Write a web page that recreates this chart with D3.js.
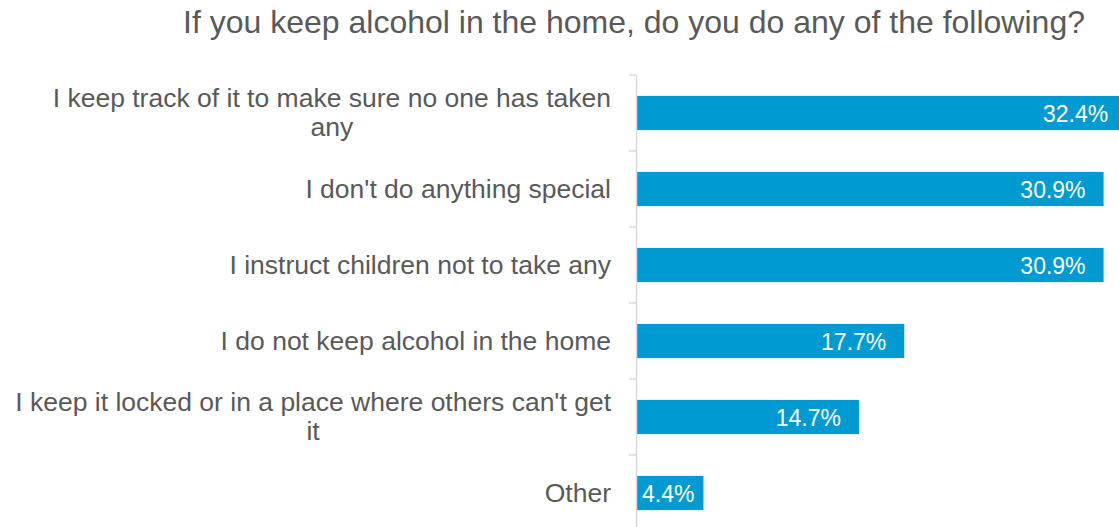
<!DOCTYPE html>
<html>
<head>
<meta charset="utf-8">
<script src="https://cdn.jsdelivr.net/npm/d3@7"></script>
<style>
  html, body { margin: 0; padding: 0; background: #fff; }
  svg { display: block; font-family: "Liberation Sans", Arial, sans-serif; }
</style>
</head>
<body>
<svg id="chart" width="1119" height="527"></svg>
<script>
// Survey answers (top to bottom) and the share of respondents for each
const categories = [
  "I keep track of it to make sure no one has taken\nany",
  "I don't do anything special",
  "I instruct children not to take any",
  "I do not keep alcohol in the home",
  "I keep it locked or in a place where others can't get\nit",
  "Other"
];
const values = [32.4, 30.9, 30.9, 17.7, 14.7, 4.4];
const title = "If you keep alcohol in the home, do you do any of the following?";

const data = categories.map((c, i) => ({ category: c, value: values[i] }));

const svg = d3.select("#chart");
const textColor = "#595959";
const barColor = "#009AD2";
const axisColor = "#D9D9D9";

const plotLeft = 637;
const plotTop = 75;
const plotBottom = 531;

const y = d3.scaleBand()
  .domain(categories)
  .range([plotTop, plotBottom])
  .padding(0);

const x = d3.scaleLinear()
  .domain([0, 30])
  .range([plotLeft, plotLeft + 453]);

const barFrac = 0.45;
const barH = y.bandwidth() * barFrac;
const barOffset = (y.bandwidth() - barH) / 2;

// Title
svg.append("text")
  .attr("x", 634)
  .attr("y", 33)
  .attr("text-anchor", "middle")
  .attr("fill", textColor)
  .style("font-size", "32px")
  .text(title);

// Bars
svg.append("g")
  .selectAll("rect")
  .data(data)
  .join("rect")
  .attr("x", x(0))
  .attr("y", d => y(d.category) + barOffset)
  .attr("width", d => x(d.value) - x(0))
  .attr("height", barH)
  .attr("fill", barColor);

// Vertical category axis with tick marks between bands
const axis = svg.append("g").attr("stroke", axisColor).attr("stroke-width", 1.5);
axis.append("line")
  .attr("x1", plotLeft - 0.5).attr("x2", plotLeft - 0.5)
  .attr("y1", plotTop).attr("y2", plotBottom);
const boundaries = categories.map(c => y(c)).concat([plotBottom]);
axis.selectAll("line.tick")
  .data(boundaries)
  .join("line")
  .attr("class", "tick")
  .attr("x1", plotLeft - 8).attr("x2", plotLeft - 0.5)
  .attr("y1", d => d).attr("y2", d => d);

// Category labels: block right-aligned, wrapped lines centred on each other
const labelRight = 611;
const lineH = 29;
const labels = svg.append("g")
  .attr("fill", textColor)
  .style("font-size", "26.5px");
data.forEach(d => {
  const lines = d.category.split("\n");
  const cy = y(d.category) + y.bandwidth() / 2;
  const g = labels.append("g");
  const texts = lines.map((ln, i) =>
    g.append("text")
      .attr("y", cy + 8.5 + (i - (lines.length - 1) / 2) * lineH)
      .text(ln));
  const widths = texts.map(t => t.node().getComputedTextLength());
  const maxW = d3.max(widths);
  const centre = labelRight - maxW / 2;
  texts.forEach(t => t.attr("x", centre).attr("text-anchor", "middle"));
});

// Value labels inside the bar end
const valueLabels = svg.append("g")
  .attr("fill", "#ffffff")
  .style("font-size", "23px");
data.forEach(d => {
  const t = valueLabels.append("text")
    .attr("text-anchor", "end")
    .attr("y", y(d.category) + y.bandwidth() / 2 + 8.5)
    .text(d.value.toFixed(1) + "%");
  const w = t.node().getComputedTextLength();
  const xe = Math.max(x(d.value) - 18, x(0) + 5 + w);
  t.attr("x", xe);
});
</script>
</body>
</html>
